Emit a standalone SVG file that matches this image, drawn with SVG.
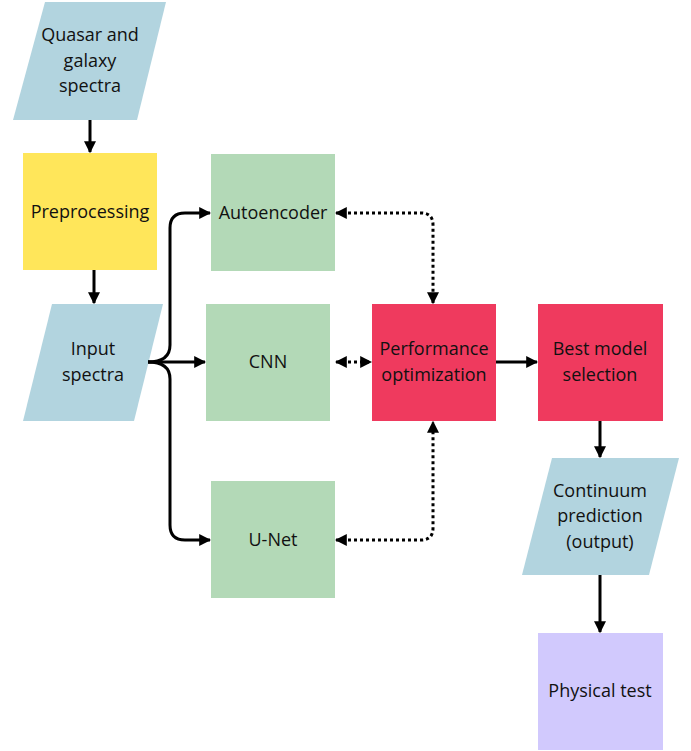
<svg xmlns="http://www.w3.org/2000/svg" width="691" height="751" viewBox="0 0 691 751">
<style>
text{font-family:"Open Sans","Noto Sans","Liberation Sans",sans-serif;font-size:18px;fill:#111;text-anchor:middle}
.io{fill:#b2d4df}
.pre{fill:#ffe65a}
.nn{fill:#b3d9b7}
.red{fill:#ef3a5e}
.pur{fill:#d1c9fd}
.c{fill:none;stroke:#000;stroke-width:3}
.d{stroke-dasharray:3 3}
</style>
<defs>
<marker id="a" viewBox="0 0 10 10" refX="9" refY="5" markerWidth="4" markerHeight="4" orient="auto-start-reverse" markerUnits="strokeWidth">
<path d="M0,0 L10,5 L0,10 z" fill="#000"/>
</marker>
</defs>
<g id="quasar"><polygon class="io" points="45,2 166,2 137,120 13,120"/>
<text x="90" y="41">Quasar and</text><text x="90" y="67">galaxy</text><text x="90" y="92">spectra</text></g>
<g id="preprocessing"><rect class="pre" x="23" y="153" width="134" height="117"/>
<text x="90" y="218">Preprocessing</text></g>
<g id="input"><polygon class="io" points="52,304 163,304 134,421 23,421"/>
<text x="93" y="355">Input</text><text x="93" y="381">spectra</text></g>
<g id="autoencoder"><rect class="nn" x="211" y="154" width="124" height="117"/>
<text x="273" y="219">Autoencoder</text></g>
<g id="cnn"><rect class="nn" x="206" y="304" width="124" height="117"/>
<text x="268" y="368">CNN</text></g>
<g id="unet"><rect class="nn" x="211" y="481" width="124" height="117"/>
<text x="273" y="546">U-Net</text></g>
<g id="perf"><rect class="red" x="372" y="304" width="124" height="117"/>
<text x="434" y="355">Performance</text><text x="434" y="381">optimization</text></g>
<g id="best"><rect class="red" x="538" y="304" width="125" height="117"/>
<text x="600" y="355">Best model</text><text x="600" y="381">selection</text></g>
<g id="continuum"><polygon class="io" points="552,458 679,458 649,575 522,575"/>
<text x="600" y="497">Continuum</text><text x="600" y="522">prediction</text><text x="600" y="548">(output)</text></g>
<g id="physical"><rect class="pur" x="538" y="633" width="125" height="117"/>
<text x="600" y="697">Physical test</text></g>
<g id="connectors">
<path class="c" d="M90,120 V152" marker-end="url(#a)"/>
<path class="c" d="M94,270 V303" marker-end="url(#a)"/>
<path class="c" d="M148,362 H205" marker-end="url(#a)"/>
<path class="c" d="M148,362 Q170,362 170,345 V228 Q170,213 185,213 H210" marker-end="url(#a)"/>
<path class="c" d="M148,362 Q170,362 170,379 V525 Q170,540 185,540 H210" marker-end="url(#a)"/>
<path class="c d" d="M336,362 H371" marker-start="url(#a)" marker-end="url(#a)"/>
<path class="c d" d="M336,213 H421 Q433,213 433,225 V303" marker-start="url(#a)" marker-end="url(#a)"/>
<path class="c d" d="M336,540 H421 Q433,540 433,528 V422" marker-start="url(#a)" marker-end="url(#a)"/>
<path class="c" d="M496,362 H537" marker-end="url(#a)"/>
<path class="c" d="M600,421 V457" marker-end="url(#a)"/>
<path class="c" d="M600,575 V632" marker-end="url(#a)"/>
</g>
</svg>
